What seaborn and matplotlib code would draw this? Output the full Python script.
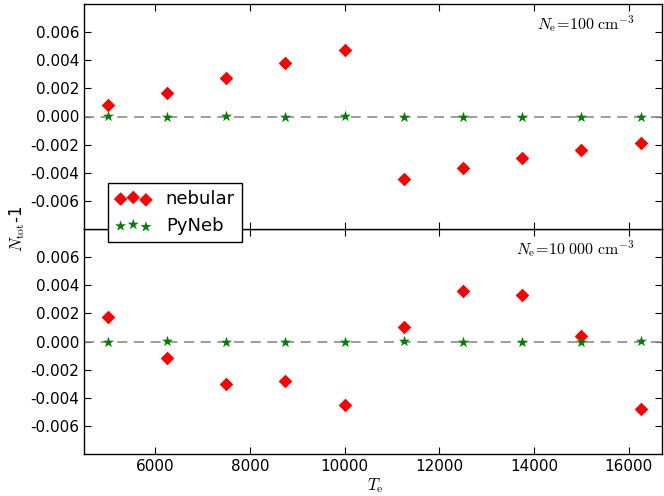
import numpy as np
import pandas as pd
import matplotlib
matplotlib.use("Agg")
import matplotlib.pyplot as plt
import seaborn as sns

# electron temperatures
te = [5000, 6250, 7500, 8750, 10000, 11250, 12500, 13750, 15000, 16250]

# N_e = 100 cm^-3
neb_100 = [0.0008, 0.0017, 0.00274, 0.0038, 0.00474, -0.00443, -0.00367, -0.00295, -0.00238, -0.00186]
pyneb_100 = [0.00002, 0.0, 0.00001, -0.00004, 0.00002, 0.0, 0.0, 0.0, -0.00002, 0.0]

# N_e = 10 000 cm^-3
neb_1e4 = [0.00174, -0.00117, -0.0030, -0.00281, -0.00448, 0.00105, 0.00362, 0.00331, 0.0004, -0.00483]
pyneb_1e4 = [0.0, 0.00003, 0.0, 0.0, -0.00002, 0.00007, -0.00005, -0.00005, -0.00005, 0.00006]

yticks = [-0.006, -0.004, -0.002, 0.0, 0.002, 0.004, 0.006]
xticks = [6000, 8000, 10000, 12000, 14000, 16000]

sns.set_style("ticks")
plt.rcParams.update({
    "font.family": ["DejaVu Sans"],
    "mathtext.fontset": "cm",
    "text.color": "black",
    "axes.labelcolor": "black",
    "xtick.color": "black",
    "ytick.color": "black",
    "xtick.direction": "in",
    "ytick.direction": "in",
    "xtick.top": True,
    "ytick.right": True,
    "xtick.major.size": 5,
    "ytick.major.size": 5,
    "xtick.labelsize": 11,
    "ytick.labelsize": 11,
    "axes.edgecolor": "black",
    "axes.linewidth": 1.0,
})

fig = plt.figure(figsize=(6.64, 4.96), dpi=100)
ax1 = fig.add_axes([84 / 664, 1 - 229 / 496, 578 / 664, 225 / 496])
ax2 = fig.add_axes([84 / 664, 1 - 454 / 496, 578 / 664, 225 / 496], sharex=ax1)
ax1.set_zorder(3)

panels = [(ax1, neb_100, pyneb_100, r"$N_{\rm e}\!=\!100\ {\rm cm}^{-3}$"),
          (ax2, neb_1e4, pyneb_1e4, r"$N_{\rm e}\!=\!10\ 000\ {\rm cm}^{-3}$")]

for ax, neb, pyn, lab in panels:
    df = pd.DataFrame({"Te": te, "nebular": neb, "PyNeb": pyn})
    ax.axhline(0, ls="--", color="0.55", lw=1.2, dashes=(6, 4), zorder=1)
    sns.scatterplot(data=df, x="Te", y="nebular", marker="D", color="red",
                    s=48, linewidth=0, label="nebular", ax=ax, legend=False, zorder=3)
    sns.scatterplot(data=df, x="Te", y="PyNeb", marker="*", color="green",
                    s=70, linewidth=0, label="PyNeb", ax=ax, legend=False, zorder=4)
    ax.set_ylim(-0.008, 0.008)
    ax.set_yticks(yticks)
    ax.set_yticklabels(["%.3f" % v for v in yticks])
    ax.set_xlabel("")
    ax.set_ylabel("")
    ax.text(0.952, 0.91, lab, transform=ax.transAxes, ha="right", va="center", fontsize=11.5)

ax1.set_xlim(4500, 16700)
ax2.set_xticks(xticks)
ax2.set_xticklabels([str(v) for v in xticks])
ax1.tick_params(labelbottom=False)

leg = ax1.legend(loc="lower left", bbox_to_anchor=(0.0415, -0.058), borderaxespad=0,
                 scatterpoints=3, fontsize=13, fancybox=False, framealpha=1,
                 edgecolor="black", handletextpad=0.8, borderpad=0.4, labelspacing=0.5)
leg.get_frame().set_linewidth(1.0)

fig.text(0.026, 1 - 229 / 496, r"$N_{\rm tot}$-1", rotation=90, ha="center", va="center", fontsize=12)
fig.text(375 / 664, 0.02, r"$T_{\rm e}$", ha="center", va="center", fontsize=12)

fig.savefig("out.png", dpi=100)
